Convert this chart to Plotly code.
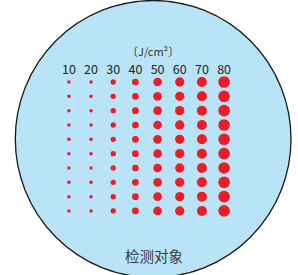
import plotly.graph_objects as go

# Data
energies = ["10", "20", "30", "40", "50", "60", "70", "80"]   # J/cm^2 column labels
dot_sizes = [3.5, 3.5, 5.3, 6.7, 8.7, 9.3, 10.0, 11.7]        # marker diameter per column
rows = [1, 2, 3, 4, 5, 6, 7, 8, 9, 10]
unit_label = "〔J/cm²〕"
target_label = "检测对象"

W, H = 298, 275
RED = "#ee1c25"
BLUE = "#b9e4f8"

xs, ys, ss = [], [], []
for e, s in zip(energies, dot_sizes):
    for r in rows:
        xs.append(e)
        ys.append(r)
        ss.append(s)

fig = go.Figure()
fig.add_trace(go.Scatter(
    x=xs, y=ys, mode="markers",
    marker=dict(size=ss, color=RED, opacity=1, line=dict(width=0)),
    hoverinfo="skip", showlegend=False,
))
# column labels
label_row = 0.24
fig.add_trace(go.Scatter(
    x=energies, y=[label_row] * len(energies), mode="text",
    text=energies, textposition="middle center",
    textfont=dict(family="Noto Sans CJK JP", size=12.5, color="#222222"),
    hoverinfo="skip", showlegend=False,
))

fig.add_shape(type="circle", xref="paper", yref="paper",
              x0=15.3 / W, x1=291.0 / W, y0=1 - 277.5 / H, y1=1 - 0.5 / H,
              fillcolor=BLUE, line=dict(color="#1a1a1a", width=1.3), layer="below")

fig.add_annotation(text=unit_label, xref="paper", yref="paper",
                   x=153 / W, y=1 - 51.5 / H, showarrow=False,
                   xanchor="center", yanchor="middle",
                   font=dict(family="Noto Sans CJK JP", size=11, color="#333333"))
fig.add_annotation(text=target_label, xref="paper", yref="paper",
                   x=153.5 / W, y=1 - 255.5 / H, showarrow=False,
                   xanchor="center", yanchor="middle",
                   font=dict(family="Noto Sans CJK SC", size=14.5, color="#3a3a3a"))

fig.update_layout(
    width=W, height=H,
    margin=dict(l=0, r=0, t=0, b=0),
    paper_bgcolor="white", plot_bgcolor="rgba(0,0,0,0)",
    xaxis=dict(type="category", categoryorder="array", categoryarray=energies,
               range=[-3.108, 10.334], visible=False, fixedrange=True),
    yaxis=dict(range=[14.468, -4.722], visible=False, fixedrange=True),
)

fig.write_html("out.html", config={"displayModeBar": False},
               post_script="document.body.style.margin='0';document.body.style.overflow='hidden';")
